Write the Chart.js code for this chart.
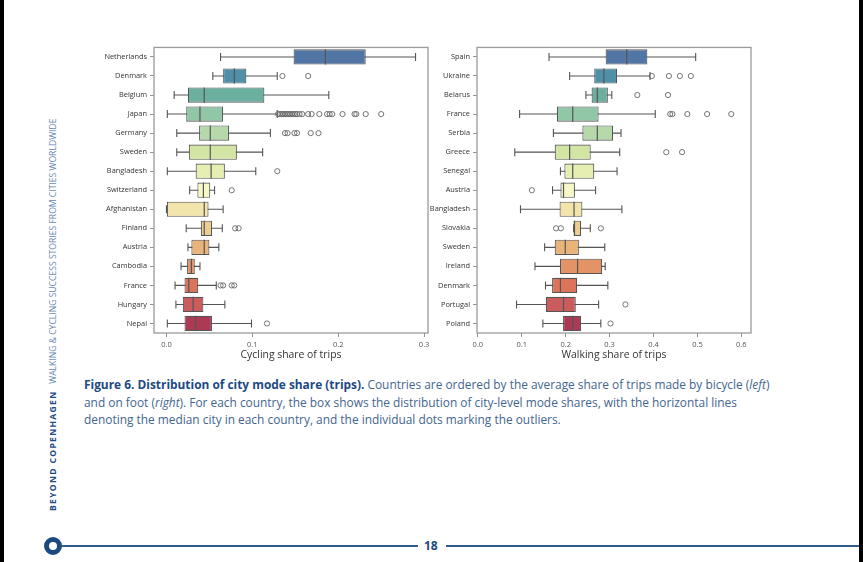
<!DOCTYPE html>
<html>
<head>
<meta charset="utf-8">
<title>Distribution of city mode share (trips)</title>
<script src="https://cdn.jsdelivr.net/npm/chart.js@4.4.0/dist/chart.umd.min.js"></script>
<style>
  body { margin: 0; width: 863px; height: 562px; background: #fff; position: relative; overflow: hidden; font-family: "Open Sans", sans-serif; }
  .edge { position: absolute; top: 0; width: 4px; height: 562px; background: #000; }
  .panel { position: absolute; top: 40px; width: 350px; height: 330px; }
  #cap { position: absolute; left: 84px; top: 376px; font-size: 11.9px; line-height: 17.5px; color: #42668e; white-space: nowrap; }
  #cap b { color: #1d4a84; }
  #side { position: absolute; left: 47px; top: 511px; transform-origin: 0 0; transform: rotate(-90deg); font-size: 8.6px; white-space: nowrap; color: #6787ae; line-height: 12px; }
  #side b { color: #1d4a84; letter-spacing: 1.3px; }
  .ring { position: absolute; left: 44px; top: 537px; width: 8px; height: 8px; border: 5px solid #1c4a80; border-radius: 50%; }
  .rule { position: absolute; top: 545px; height: 2px; background: #2f5a8b; }
  #page { position: absolute; left: 424px; top: 537px; font-size: 12px; font-weight: 700; color: #1c4a80; line-height: 18px; }
</style>
</head>
<body>
<div class="edge" style="left:0"></div>
<div class="edge" style="left:859px"></div>

<div class="panel" style="left:84px"><canvas id="cyclingChart"></canvas></div>
<div class="panel" style="left:407px"><canvas id="walkingChart"></canvas></div>

<div id="cap">
  <div><b>Figure 6. Distribution of city mode share (trips).</b> Countries are ordered by the average share of trips made by bicycle (<i>left</i>)</div>
  <div>and on foot (<i>right</i>). For each country, the box shows the distribution of city-level mode shares, with the horizontal lines</div>
  <div>denoting the median city in each country, and the individual dots marking the outliers.</div>
</div>

<div id="side"><b>BEYOND COPENHAGEN</b>&nbsp;&nbsp; WALKING &amp; CYCLING SUCCESS STORIES FROM CITIES WORLDWIDE</div>

<div class="ring"></div>
<div class="rule" style="left:62px; width:356px"></div>
<div id="page">18</div>
<div class="rule" style="left:446px; width:413px"></div>

<script>
// cycling (left)
const cyclingCountries = ['Netherlands', 'Denmark', 'Belgium', 'Japan', 'Germany', 'Sweden', 'Bangladesh', 'Switzerland',
  'Afghanistan', 'Finland', 'Austria', 'Cambodia', 'France', 'Hungary', 'Nepal'];
const cyclingLow  = [0.063, 0.054, 0.009, 0.001, 0.012, 0.012, 0.001, 0.027, 0.000, 0.023, 0.025, 0.017, 0.010, 0.011, 0.001];
const cyclingQ1   = [0.148, 0.066, 0.025, 0.023, 0.038, 0.026, 0.034, 0.036, 0.000, 0.040, 0.029, 0.024, 0.021, 0.019, 0.021];
const cyclingMed  = [0.185, 0.079, 0.044, 0.039, 0.051, 0.051, 0.052, 0.043, 0.044, 0.044, 0.044, 0.029, 0.026, 0.031, 0.034];
const cyclingQ3   = [0.232, 0.093, 0.114, 0.066, 0.073, 0.082, 0.068, 0.051, 0.049, 0.053, 0.050, 0.033, 0.037, 0.043, 0.053];
const cyclingHigh = [0.290, 0.129, 0.189, 0.129, 0.121, 0.112, 0.104, 0.056, 0.066, 0.065, 0.061, 0.039, 0.058, 0.068, 0.099];
const cyclingOutliers = [
  [],
  [0.135, 0.165],
  [],
  [0.130, 0.132, 0.134, 0.136, 0.138, 0.140, 0.142, 0.144, 0.146, 0.148, 0.150, 0.152, 0.155, 0.158,
   0.165, 0.169, 0.178, 0.187, 0.190, 0.193, 0.205, 0.219, 0.221, 0.232, 0.250],
  [0.138, 0.141, 0.149, 0.152, 0.168, 0.177],
  [],
  [0.129],
  [0.076],
  [],
  [0.080, 0.084],
  [],
  [],
  [0.063, 0.066, 0.076, 0.079],
  [],
  [0.117]
];
const cyclingTicks = [0.0, 0.1, 0.2, 0.3];

// walking (right)
const walkingCountries = ['Spain', 'Ukraine', 'Belarus', 'France', 'Serbia', 'Greece', 'Senegal', 'Austria',
  'Bangladesh', 'Slovakia', 'Sweden', 'Ireland', 'Denmark', 'Portugal', 'Poland'];
const walkingLow  = [0.162, 0.209, 0.246, 0.095, 0.172, 0.084, 0.188, 0.170, 0.097, 0.218, 0.152, 0.130, 0.154, 0.088, 0.148];
const walkingQ1   = [0.291, 0.265, 0.259, 0.180, 0.238, 0.175, 0.197, 0.188, 0.186, 0.218, 0.175, 0.187, 0.169, 0.155, 0.194];
const walkingMed  = [0.339, 0.287, 0.272, 0.216, 0.272, 0.209, 0.216, 0.195, 0.219, 0.220, 0.199, 0.227, 0.188, 0.195, 0.216];
const walkingQ3   = [0.386, 0.317, 0.296, 0.275, 0.308, 0.257, 0.265, 0.221, 0.238, 0.235, 0.230, 0.283, 0.226, 0.223, 0.235];
const walkingHigh = [0.496, 0.392, 0.305, 0.404, 0.326, 0.323, 0.317, 0.268, 0.328, 0.256, 0.289, 0.290, 0.296, 0.275, 0.280];
const walkingOutliers = [
  [],
  [0.396, 0.435, 0.460, 0.485],
  [0.363, 0.433],
  [0.438, 0.443, 0.477, 0.522, 0.577],
  [],
  [0.429, 0.465],
  [],
  [0.123],
  [],
  [0.178, 0.189, 0.280],
  [],
  [],
  [],
  [0.336],
  [0.302]
];
const walkingTicks = [0.0, 0.1, 0.2, 0.3, 0.4, 0.5, 0.6];

// Spectral_r sampled like seaborn, then desaturated to 0.75
const spectral = [[158,1,66],[213,62,79],[244,109,67],[253,174,97],[254,224,139],[255,255,191],
  [230,245,152],[171,221,164],[102,194,165],[50,136,189],[94,79,162]];
function spectralR(t) {
  const p = (1 - t) * 10;
  const i = Math.min(9, Math.floor(p));
  const f = p - i;
  return spectral[i].map((c, k) => c + (spectral[i + 1][k] - c) * f);
}
function desat(rgb, s) {
  const [r, g, b] = rgb.map(v => v / 255);
  const mx = Math.max(r, g, b), mn = Math.min(r, g, b), l = (mx + mn) / 2, d = mx - mn;
  if (d === 0) return rgb.map(Math.round);
  const sat = l > 0.5 ? d / (2 - mx - mn) : d / (mx + mn);
  const nd = l > 0.5 ? sat * s * (2 - 2 * l) : sat * s * 2 * l;
  const nmn = l - nd / 2;
  return [r, g, b].map(v => Math.round((nmn + (v - mn) / d * nd) * 255));
}
const palette = cyclingCountries.map((c, i) => 'rgb(' + desat(spectralR((i + 1) / 16), 0.75).join(',') + ')');

const lineGray = '#555555';

function boxPlugin(low, med, high) {
  return {
    id: 'boxParts',
    beforeDatasetsDraw(chart) {
      const { ctx, scales: { x, y } } = chart;
      const row = y.getPixelForValue(1) - y.getPixelForValue(0);
      const cap = row * 0.21;
      ctx.save();
      ctx.strokeStyle = lineGray;
      ctx.lineWidth = 1.1;
      low.forEach((lo, i) => {
        const cy = y.getPixelForValue(i);
        const x0 = x.getPixelForValue(lo), x1 = x.getPixelForValue(high[i]);
        ctx.beginPath();
        ctx.moveTo(x0, cy); ctx.lineTo(x1, cy);
        ctx.moveTo(x0, cy - cap); ctx.lineTo(x0, cy + cap);
        ctx.moveTo(x1, cy - cap); ctx.lineTo(x1, cy + cap);
        ctx.stroke();
      });
      ctx.restore();
    },
    afterDatasetsDraw(chart) {
      const { ctx, chartArea: a, scales: { x, y } } = chart;
      const row = y.getPixelForValue(1) - y.getPixelForValue(0);
      ctx.save();
      ctx.strokeStyle = lineGray;
      ctx.lineWidth = 1.2;
      med.forEach((m, i) => {
        const cy = y.getPixelForValue(i), px = x.getPixelForValue(m);
        ctx.beginPath();
        ctx.moveTo(px, cy - row * 0.4); ctx.lineTo(px, cy + row * 0.4);
        ctx.stroke();
      });
      // full frame round the plot
      ctx.strokeStyle = '#9a9a9a';
      ctx.lineWidth = 1.3;
      ctx.strokeRect(a.left, a.top, a.right - a.left, a.bottom - a.top);
      ctx.restore();
    }
  };
}

function makeChart(id, countries, low, q1, med, q3, high, outliers, ticks, xmin, xmax, title) {
  const points = [];
  outliers.forEach((list, i) => list.forEach(v => points.push({ x: v, y: countries[i] })));
  return new Chart(document.getElementById(id), {
    type: 'bar',
    data: {
      labels: countries,
      datasets: [
        {
          type: 'scatter',
          data: points,
          pointStyle: 'circle',
          pointRadius: 2.6,
          pointBorderWidth: 0.9,
          borderColor: '#666',
          backgroundColor: 'rgba(0,0,0,0)'
        },
        {
          data: q1.map((v, i) => [v, q3[i]]),
          backgroundColor: palette,
          borderColor: lineGray,
          borderWidth: 1.1,
          borderSkipped: false,
          categoryPercentage: 1,
          barPercentage: 0.8
        }
      ]
    },
    options: {
      indexAxis: 'y',
      responsive: true,
      maintainAspectRatio: false,
      animation: false,
      layout: { padding: { top: 6, right: 6, left: 0, bottom: 0 } },
      plugins: { legend: { display: false }, tooltip: { enabled: false } },
      scales: {
        x: {
          type: 'linear',
          min: xmin,
          max: xmax,
          afterBuildTicks: s => { s.ticks = ticks.map(v => ({ value: v })); },
          afterFit: s => { s.height = 37; },
          grid: { drawOnChartArea: false, tickLength: 4, color: '#777', lineWidth: 0.8 },
          border: { display: false },
          ticks: { padding: 3, color: '#555', font: { family: 'Open Sans', size: 7.5 }, callback: v => v.toFixed(1), maxRotation: 0 },
          title: { display: true, text: title, color: '#333', font: { family: 'Open Sans', size: 10.4 }, padding: { top: 0, bottom: 8.5 } }
        },
        y: {
          type: 'category',
          offset: true,
          afterFit: s => { s.width = 70; },
          grid: { drawOnChartArea: false, offset: false, tickLength: 4, color: '#777', lineWidth: 0.8 },
          border: { display: false },
          ticks: { padding: 3, color: '#333', font: { family: 'Open Sans', size: 7.4 } }
        }
      }
    },
    plugins: [boxPlugin(low, med, high)]
  });
}

makeChart('cyclingChart', cyclingCountries, cyclingLow, cyclingQ1, cyclingMed, cyclingQ3, cyclingHigh, cyclingOutliers,
  cyclingTicks, -0.0145, 0.3045, 'Cycling share of trips');
makeChart('walkingChart', walkingCountries, walkingLow, walkingQ1, walkingMed, walkingQ3, walkingHigh, walkingOutliers,
  walkingTicks, -0.002, 0.622, 'Walking share of trips');
</script>
</body>
</html>
